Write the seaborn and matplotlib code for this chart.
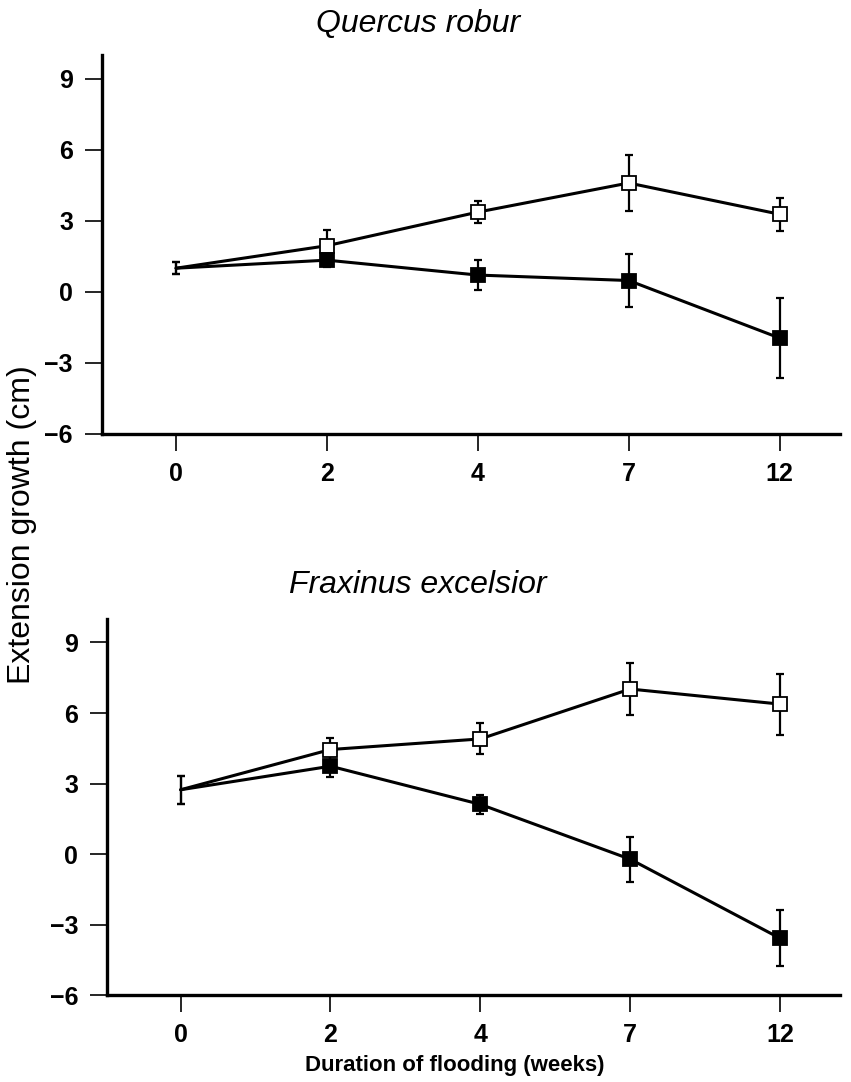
import numpy as np
import pandas as pd
import matplotlib
matplotlib.use("Agg")
import matplotlib.pyplot as plt
import seaborn as sns

weeks = ["0", "2", "4", "7", "12"]

quercus_control = [1.0, 1.95, 3.37, 4.6, 3.28]
quercus_control_err = [0.25, 0.65, 0.45, 1.2, 0.7]
quercus_flooded = [1.0, 1.34, 0.71, 0.48, -1.95]
quercus_flooded_err = [0.25, 0.3, 0.62, 1.1, 1.7]

fraxinus_control = [2.74, 4.45, 4.9, 7.02, 6.38]
fraxinus_control_err = [0.6, 0.5, 0.66, 1.12, 1.3]
fraxinus_flooded = [2.74, 3.74, 2.12, -0.21, -3.57]
fraxinus_flooded_err = [0.6, 0.45, 0.4, 0.95, 1.2]

yticks = [-6, -3, 0, 3, 6, 9]

sns.set_style("ticks")
plt.rcParams['font.family'] = ['Liberation Sans', 'DejaVu Sans']
plt.rcParams['text.color'] = 'black'
plt.rcParams['xtick.color'] = 'black'
plt.rcParams['ytick.color'] = 'black'
plt.rcParams['axes.edgecolor'] = 'black'

fig = plt.figure(figsize=(8.51, 10.82), dpi=100)
ax1 = fig.add_axes([0.120, 0.599, 0.867, 0.350])
ax2 = fig.add_axes([0.126, 0.080, 0.861, 0.348])

panels = [
    (ax1, "Quercus robur", 0.9704, quercus_control, quercus_control_err, quercus_flooded, quercus_flooded_err),
    (ax2, "Fraxinus excelsior", 0.452, fraxinus_control, fraxinus_control_err, fraxinus_flooded, fraxinus_flooded_err),
]

for ax, title, ty, ctrl, ctrl_e, fl, fl_e in panels:
    pos = np.arange(len(weeks))
    df = pd.DataFrame({"pos": pos, "ctrl": ctrl, "fl": fl})
    for col, err, face in [("ctrl", ctrl_e, "white"), ("fl", fl_e, "black")]:
        ax.errorbar(df["pos"], df[col], yerr=err, fmt="none", ecolor="black",
                    elinewidth=1.6, capsize=3, capthick=1.6, zorder=2)
        sns.lineplot(data=df, x="pos", y=col, ax=ax, color="black", linewidth=2.2,
                     marker="s", markersize=10, markerfacecolor=face,
                     markeredgecolor="black", markeredgewidth=1.3,
                     markevery=[1, 2, 3, 4], zorder=3)
    ax.set_xlim(-0.49, 4.4)
    ax.set_ylim(-6, 10)
    ax.set_xticks(pos)
    ax.set_xticklabels(weeks)
    ax.set_yticks(yticks)
    ax.set_yticklabels([str(t).replace("-", "\u2212") for t in yticks])
    ax.set_xlabel("")
    ax.set_ylabel("")
    sns.despine(ax=ax)
    for s in ["left", "bottom"]:
        ax.spines[s].set_linewidth(2.4)
    ax.tick_params(axis="y", direction="out", length=12, width=1.2, pad=9, labelsize=18)
    ax.tick_params(axis="x", direction="out", length=12, width=1.2, pad=8, labelsize=18)
    for lab in ax.get_xticklabels() + ax.get_yticklabels():
        lab.set_fontweight("bold")
    fig.text(0.491, ty, title, fontstyle="italic", fontsize=23, ha="center", va="baseline")

fig.text(0.026, 0.515, "Extension growth (cm)", rotation=90, ha="center", va="center",
         fontsize=23)
fig.text(0.358, 0.015, "Duration of flooding (weeks)", ha="left", va="center",
         fontsize=16, fontweight="bold")

fig.savefig("out.png", dpi=100)
